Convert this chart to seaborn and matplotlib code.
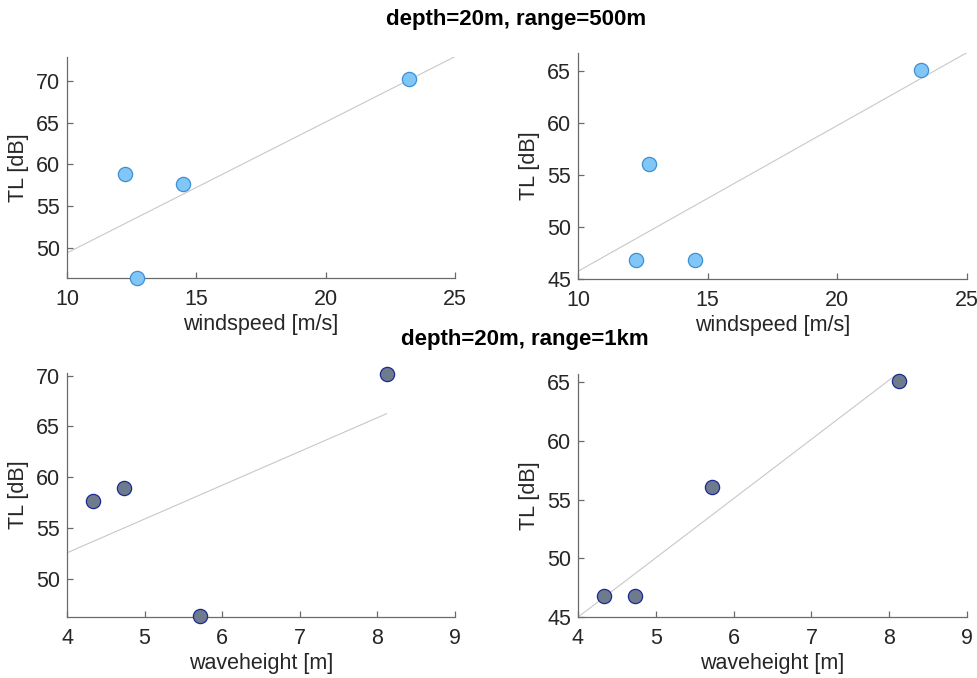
import numpy as np
import pandas as pd
import matplotlib
matplotlib.use('Agg')
import matplotlib.pyplot as plt
import seaborn as sns

windspeed = [12.23, 12.72, 14.50, 23.23]    # m/s
waveheight = [4.73, 5.72, 4.33, 8.12]       # m
tl_left = [58.9, 46.4, 57.7, 70.2]          # dB, left column
tl_right = [46.8, 56.1, 46.8, 65.1]         # dB, right column

title_top = "depth=20m, range=500m"
title_bottom = "depth=20m, range=1km"

df = pd.DataFrame({"windspeed": windspeed, "waveheight": waveheight,
                   "tl_left": tl_left, "tl_right": tl_right})

sns.set_style("ticks")
plt.rcParams['font.family'] = ['Liberation Sans', 'DejaVu Sans']

W, H = 978, 678
fig = plt.figure(figsize=[W / 100, H / 100], dpi=100)

def px_rect(left, right, top, bottom):
    return [left / W, 1 - bottom / H, (right - left) / W, (bottom - top) / H]

wind_style = dict(color="#80c6f6", edgecolor="#3f8fd6")
wave_style = dict(color="#6e7b8c", edgecolor="#1c2a96")

panels = [
    # rect, x, y, line x-range, xlim, ylim, xticks, yticks, style, xlabel
    (px_rect(67, 455, 57, 278), "windspeed", "tl_left", (10, 25), (10, 25),
     (46.43, 72.85), [10, 15, 20, 25], [50, 55, 60, 65, 70], wind_style,
     "windspeed [m/s]"),
    (px_rect(578, 967, 53, 279), "windspeed", "tl_right", (10, 25), (10, 25),
     (45, 66.75), [10, 15, 20, 25], [45, 50, 55, 60, 65], wind_style,
     "windspeed [m/s]"),
    (px_rect(67, 455, 373, 617), "waveheight", "tl_left",
     (4, max(waveheight)), (4, 9), (46.26, 70.25), [4, 5, 6, 7, 8, 9],
     [50, 55, 60, 65, 70], wave_style, "waveheight [m]"),
    (px_rect(578, 967, 374, 617), "waveheight", "tl_right",
     (4, max(waveheight)), (4, 9), (45, 65.7), [4, 5, 6, 7, 8, 9],
     [45, 50, 55, 60, 65], wave_style, "waveheight [m]"),
]

for rect, xcol, ycol, xr, xlim, ylim, xt, yt, st, xlab in panels:
    ax = fig.add_axes(rect)
    # least-squares line drawn over the x-range set just before fitting
    ax.set_xlim(*xr)
    sns.regplot(data=df, x=xcol, y=ycol, ci=None, truncate=False,
                scatter=False, ax=ax,
                line_kws=dict(color="#c8c8c8", lw=0.8, zorder=1))
    sns.scatterplot(data=df, x=xcol, y=ycol, s=105, linewidth=0.9,
                    clip_on=False, zorder=3, ax=ax, **st)
    ax.set_xlim(*xlim)
    ax.set_ylim(*ylim)
    ax.set_xticks(xt)
    ax.set_yticks(yt)
    sns.despine(ax=ax)
    for side in ["left", "bottom"]:
        ax.spines[side].set_color("#6a6a6a")
        ax.spines[side].set_linewidth(0.9)
    ax.tick_params(direction="in", length=4, width=0.9, color="#6a6a6a",
                   labelcolor="#262626", labelsize=15.5)
    ax.tick_params(axis="x", pad=8)
    ax.tick_params(axis="y", pad=5)
    ax.set_xlabel(xlab, fontsize=15.5, color="#262626", labelpad=3)
    ax.set_ylabel("TL [dB]", fontsize=15.5, color="#262626", labelpad=5)

fig.text(516 / W, 1 - 20 / H, title_top, ha="center", va="center",
         fontsize=16, fontweight="bold", color="black")
fig.text(525 / W, 1 - 340 / H, title_bottom, ha="center", va="center",
         fontsize=16, fontweight="bold", color="black")

fig.savefig("out.png", dpi=100)
